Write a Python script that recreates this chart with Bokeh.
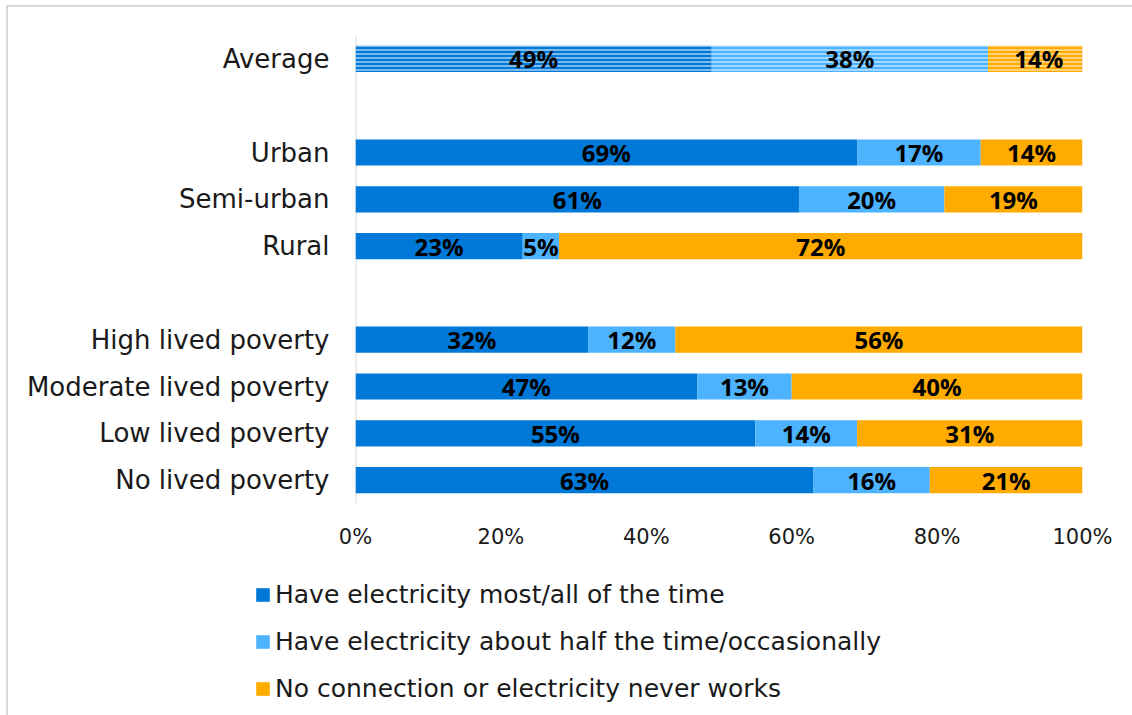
from bokeh.plotting import figure
from bokeh.layouts import column
from bokeh.models import (FactorRange, ColumnDataSource, Legend, LegendItem,
                          NumeralTickFormatter, FixedTicker, LabelSet, Span)
from bokeh.core.properties import value
from bokeh.embed import file_html
from bokeh.resources import INLINE

categories = ["Average", " ", "Urban", "Semi-urban", "Rural", "  ",
              "High lived poverty", "Moderate lived poverty", "Low lived poverty", "No lived poverty"]
most = [49, None, 69, 61, 23, None, 32, 47, 55, 63]
half = [38, None, 17, 20, 5, None, 12, 13, 14, 16]
never = [14, None, 14, 19, 72, None, 56, 40, 31, 21]
series_names = ["Have electricity most/all of the time",
                "Have electricity about half the time/occasionally",
                "No connection or electricity never works"]
colors = ["#0078d7", "#4db3ff", "#ffab00"]
x_ticks = [0, 0.2, 0.4, 0.6, 0.8, 1.0]

FONT = "DejaVu Sans"
LABEL_FONT = "Open Sans"
OX, OY = 8, 7  # offset of the chart-area border
MAIN_H = 560 - OY
W = 1132 - OX

p = figure(width=W, height=MAIN_H, y_range=FactorRange(*reversed(categories)),
           x_range=(0, 1), output_backend="svg", toolbar_location=None,
           min_border_left=355 - OX, min_border_right=50, min_border_top=35 - OY,
           min_border_bottom=57)
p.frame_align = False
p.outline_line_color = None
p.grid.visible = False

rows = [i for i, c in enumerate(categories) if most[i] is not None]
series = [most, half, never]
for s_idx, vals in enumerate(series):
    left, right, ys, mids, labels = [], [], [], [], []
    for i in rows:
        start = sum(series[k][i] for k in range(s_idx)) / 100.0
        end = start + vals[i] / 100.0
        left.append(start); right.append(end); ys.append(categories[i])
        mids.append((start + end) / 2); labels.append(f"{vals[i]}%")
    src = ColumnDataSource(dict(left=left, right=right, y=ys, mid=mids, label=labels))
    plain = ColumnDataSource(dict(left=left[1:], right=right[1:], y=ys[1:]))
    avg = ColumnDataSource(dict(left=left[:1], right=right[:1], y=ys[:1]))
    p.hbar(y="y", left="left", right="right", height=0.56, source=plain,
           fill_color=colors[s_idx], line_color=None)
    p.hbar(y="y", left="left", right="right", height=0.56, source=avg,
           fill_color=colors[s_idx], line_color=None,
           hatch_pattern="horizontal_line", hatch_color="white", hatch_alpha=0.8,
           hatch_scale=4, hatch_weight=1.2)
    p.add_layout(LabelSet(x="mid", y="y", text="label", source=src,
                          text_align="center", text_baseline="middle",
                          text_font=value(LABEL_FONT), text_font_style="bold",
                          text_font_size="24px", text_color="black"))

p.add_layout(Span(location=0, dimension="height", line_color="#d9d9d9",
                  line_width=2, level="underlay"))

p.xaxis.ticker = FixedTicker(ticks=x_ticks)
p.xaxis.formatter = NumeralTickFormatter(format="0%")
p.xaxis.axis_line_color = None
p.xaxis.major_tick_line_color = None
p.xaxis.minor_tick_line_color = None
p.xaxis.major_label_standoff = 15
p.xaxis.major_label_text_font = FONT
p.xaxis.major_label_text_font_size = "21px"
p.xaxis.major_label_text_color = "#1a1a1a"

p.yaxis.axis_line_color = None
p.yaxis.major_tick_line_color = None
p.yaxis.minor_tick_line_color = None
p.yaxis.major_label_standoff = 20
p.yaxis.major_label_text_font = FONT
p.yaxis.major_label_text_font_size = "26px"
p.yaxis.major_label_text_color = "#1a1a1a"

# legend panel
LEG_H = 715 - OY - MAIN_H
lf = figure(width=W, height=LEG_H, x_range=(0, 1), y_range=(0, 1),
            output_backend="svg", toolbar_location=None,
            x_axis_type=None, y_axis_type=None, min_border=0,
            min_border_left=0, min_border_right=0, min_border_top=0, min_border_bottom=0)
lf.frame_align = False
lf.outline_line_color = None
lf.grid.visible = False
leg_renderers = [lf.hbar(y=[-1], left=[0], right=[0], height=0.01, fill_color=c, line_color=None)
                 for c in colors]
legend = Legend(items=[LegendItem(label=n, renderers=[r]) for n, r in zip(series_names, leg_renderers)],
                orientation="vertical", location=(254 - OX, 12),
                border_line_color=None, background_fill_alpha=0,
                padding=0, margin=0, spacing=18,
                glyph_width=17, glyph_height=17, label_height=26,
                label_standoff=4,
                label_text_font=FONT, label_text_font_size="25px",
                label_text_color="#1a1a1a")
lf.add_layout(legend, "center")

layout = column(p, lf, spacing=0,
                styles={"margin-left": "6px", "margin-top": "5px",
                        "border-left": "2px solid #d9d9d9", "border-top": "2px solid #d9d9d9"})

open("out.html", "w").write(file_html(layout, INLINE))
